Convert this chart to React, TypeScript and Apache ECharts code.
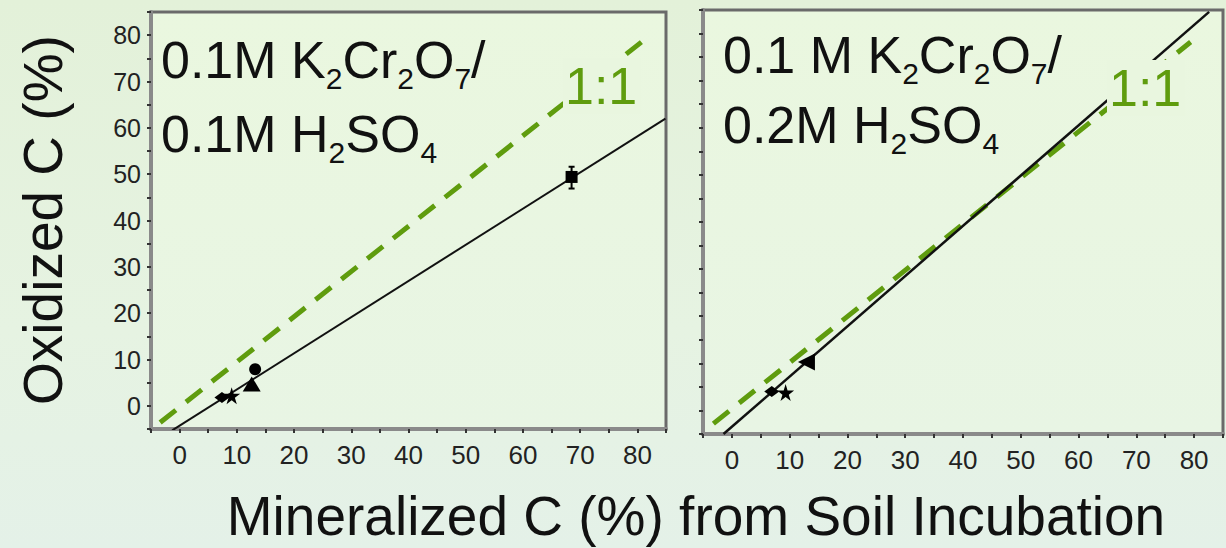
import React, { useEffect, useRef } from 'react';
import * as echarts from 'echarts';

// ---- data ----
const xTickLabels = [0, 10, 20, 30, 40, 50, 60, 70, 80];
const yTickLabels = [0, 10, 20, 30, 40, 50, 60, 70, 80];

const leftOneToOne = [[-3.4, -3.6], [80.7, 78.5]];
const leftFit = [[-1.3, -5.3], [84.9, 62.0]];
const leftDiamond = [[7.4, 1.8]];
const leftStar = [[9.1, 2.2]];
const leftTriangle = [[12.6, 4.7]];
const leftCircle = [[13.2, 7.9]];
const leftSquare = [[68.5, 49.4]];
const leftSquareErr = [[68.5, 46.9, 51.6]];

const rightOneToOne = [[-3.2, -2.8], [79.4, 78.2]];
const rightFit = [[-1.45, -5.0], [82.6, 84.6]];
const rightDiamond = [[6.9, 4.0]];
const rightStar = [[9.3, 3.8]];
const rightTriangle = [[12.9, 10.3]];

const leftTitle1 = '0.1M K{s|2}Cr{s|2}O{s|7}/';
const leftTitle2 = '0.1M H{s|2}SO{s|4}';
const rightTitle1 = '0.1 M K{s|2}Cr{s|2}O{s|7}/';
const rightTitle2 = '0.2M H{s|2}SO{s|4}';
const ratioLabel = '1:1';
const yTitle = 'Oxidized C (%)';
const xTitle = 'Mineralized C (%) from Soil Incubation';

const FONT = '"Liberation Sans", Arial, sans-serif';
const GREEN = '#5f9c0e';
const STAR = 'path://M50,0 L61,35 L98,35 L68,57 L79,91 L50,70 L21,91 L32,57 L2,35 L39,35 Z';

function axisX(gridIndex: number) {
  return {
    type: 'value', gridIndex, min: -5, max: 85, interval: 5,
    axisLine: { show: true, onZero: false, lineStyle: { color: '#8a8a8a', width: 4 } },
    axisTick: { show: true, inside: false, length: 4, lineStyle: { color: '#333', width: 2 } },
    splitLine: { show: false },
    axisLabel: {
      show: true, margin: 13, color: '#222', fontSize: 26, fontFamily: FONT,
      formatter: (v: number) => (xTickLabels.includes(v) ? String(v) : ''),
    },
  };
}
function axisY(gridIndex: number, showLabels: boolean) {
  return {
    type: 'value', gridIndex, min: -5, max: 85, interval: 5,
    axisLine: { show: true, onZero: false, lineStyle: { color: '#8a8a8a', width: 4 } },
    axisTick: { show: true, inside: false, length: 4, lineStyle: { color: '#333', width: 2 } },
    splitLine: { show: false },
    axisLabel: {
      show: showLabels, margin: 10, color: '#222', fontSize: 25, fontFamily: FONT,
      formatter: (v: number) => (yTickLabels.includes(v) ? String(v) : ''),
    },
  };
}

const plotBg = {
  type: 'linear', x: 0, y: 0, x2: 0, y2: 1,
  colorStops: [{ offset: 0, color: '#eaf7df' }, { offset: 1, color: '#e8f5e4' }],
};

function lineSeries(data: number[][], idx: number, color: string, width: number, dashed: boolean) {
  return {
    type: 'line', xAxisIndex: idx, yAxisIndex: idx, data, symbol: 'none', silent: true,
    lineStyle: { color, width, type: dashed ? [20, 13] : 'solid' }, z: dashed ? 3 : 4,
  };
}
function scatter(data: number[][], idx: number, symbol: string, size: any, rotate = 0) {
  return {
    type: 'scatter', xAxisIndex: idx, yAxisIndex: idx, data, symbol, symbolSize: size,
    symbolRotate: rotate, itemStyle: { color: '#000', opacity: 1 }, z: 5,
  };
}

function titleText(text: string, x: number, baseline: number) {
  return {
    type: 'text', x, y: baseline - 50, z: 100,
    style: {
      text, fill: '#111', fontFamily: FONT, fontSize: 52, verticalAlign: 'top', align: 'left',
      rich: {
        s: { fontFamily: FONT, fontSize: 30, fill: '#111', padding: [37, 0, 0, 0], lineHeight: 64 },
      },
      lineHeight: 64,
    },
  };
}
function ratioText(x: number, baseline: number) {
  return {
    type: 'text', x, y: baseline - 19, z: 100,
    style: {
      text: ratioLabel, fill: GREEN, fontFamily: FONT, fontSize: 52,
      align: 'left', verticalAlign: 'middle', backgroundColor: '#e9f6df', padding: [2, 4, 2, 2],
    },
  };
}

export default function App() {
  const ref = useRef<HTMLDivElement>(null);
  useEffect(() => {
    document.body.style.margin = '0';
    const chart = echarts.init(ref.current!, null, { renderer: 'svg' });
    const option: any = {
      animation: false,
      grid: [
        { left: 151, top: 12, width: 515, height: 417, show: true, backgroundColor: plotBg, borderColor: '#6a6a6a', borderWidth: 3 },
        { left: 703, top: 10, width: 520, height: 424, show: true, backgroundColor: plotBg, borderColor: '#6a6a6a', borderWidth: 3 },
      ],
      xAxis: [axisX(0), axisX(1)],
      yAxis: [axisY(0, true), axisY(1, false)],
      series: [
        lineSeries(leftOneToOne, 0, GREEN, 5, true),
        lineSeries(leftFit, 0, '#111', 2, false),
        scatter(leftDiamond, 0, 'diamond', [15, 11]),
        scatter(leftStar, 0, STAR, 17),
        scatter(leftTriangle, 0, 'triangle', [18, 15]),
        scatter(leftCircle, 0, 'circle', 12),
        scatter(leftSquare, 0, 'rect', 12),
        {
          type: 'custom', xAxisIndex: 0, yAxisIndex: 0, data: leftSquareErr, z: 6,
          encode: { x: 0, y: [1, 2] },
          renderItem: (params: any, api: any) => {
            const x = api.value(0);
            const p1 = api.coord([x, api.value(1)]);
            const p2 = api.coord([x, api.value(2)]);
            const st = { stroke: '#000', lineWidth: 2 };
            return {
              type: 'group',
              children: [
                { type: 'line', shape: { x1: p1[0], y1: p1[1], x2: p2[0], y2: p2[1] }, style: st },
                { type: 'line', shape: { x1: p1[0] - 3, y1: p1[1], x2: p1[0] + 3, y2: p1[1] }, style: st },
                { type: 'line', shape: { x1: p2[0] - 3, y1: p2[1], x2: p2[0] + 3, y2: p2[1] }, style: st },
              ],
            };
          },
        },
        lineSeries(rightOneToOne, 1, GREEN, 5, true),
        lineSeries(rightFit, 1, '#111', 2.5, false),
        scatter(rightDiamond, 1, 'diamond', [15, 11]),
        scatter(rightStar, 1, STAR, 17),
        scatter(rightTriangle, 1, 'triangle', [17, 17], 90),
      ],
      graphic: [
        titleText(leftTitle1, 161, 78),
        titleText(leftTitle2, 161, 152),
        titleText(rightTitle1, 723, 73),
        titleText(rightTitle2, 723, 143),
        ratioText(563, 105),
        ratioText(1107, 107),
        {
          type: 'text', x: 43, y: 220, rotation: Math.PI / 2, z: 100,
          style: { text: yTitle, fill: '#111', fontFamily: FONT, fontSize: 55, align: 'center', verticalAlign: 'middle' },
        },
        {
          type: 'text', x: 696, y: 516, z: 100,
          style: { text: xTitle, fill: '#111', fontFamily: FONT, fontSize: 55, align: 'center', verticalAlign: 'middle' },
        },
      ],
    };
    chart.setOption(option);
    return () => chart.dispose();
  }, []);
  return (
    <div
      ref={ref}
      style={{
        width: 1226, height: 548,
        background: 'linear-gradient(180deg, #e3f1d9 0%, #e6f3e2 60%, #e4f1e8 100%)',
      }}
    />
  );
}
